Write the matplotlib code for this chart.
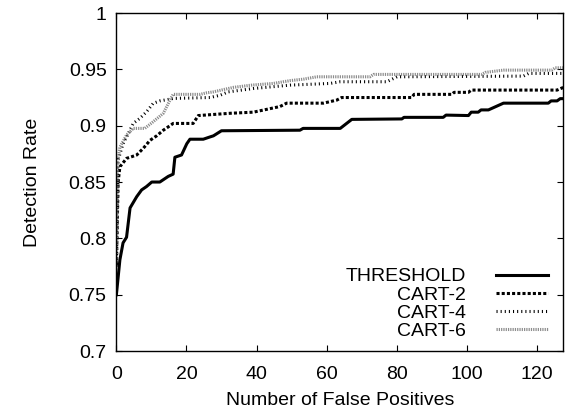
import matplotlib
matplotlib.use("Agg")
import matplotlib.pyplot as plt
from matplotlib.ticker import FormatStrFormatter

plt.rcParams['font.family'] = ['Liberation Sans', 'DejaVu Sans']

thr_x = [0, 1.0, 1.9, 2.9, 3.9, 5.8, 7.2, 8.6, 10.1, 12.4, 14.8, 16.2, 16.7, 18.6, 20.1, 21,
         24.8, 26.7, 27.7, 30, 52.4, 53.3, 63.9, 67.2, 81.5, 82.1, 93.3, 94.1, 100.5, 101.3,
         103.3, 104.1, 106.2, 110.5, 123.3, 124.1, 125.8, 126.7, 128]
thr_y = [0.75, 0.781, 0.796, 0.801, 0.827, 0.837, 0.843, 0.846, 0.850, 0.850, 0.855, 0.857,
         0.872, 0.874, 0.884, 0.888, 0.888, 0.890, 0.891, 0.8955, 0.896, 0.8976, 0.8976,
         0.9056, 0.906, 0.9074, 0.9074, 0.9094, 0.909, 0.912, 0.912, 0.914, 0.914, 0.920,
         0.920, 0.922, 0.922, 0.924, 0.924]

cart2_x = [0, 0.5, 1.0, 2.9, 4.3, 5.8, 7.7, 9.6, 11.5, 13.4, 15.3, 16.2, 21.9, 23.4, 32.4,
           39.1, 46.7, 48.6, 59.1, 62.9, 64.3, 84.3, 85, 95.8, 96.4, 100.5, 101.3, 125.8,
           127.3, 128]
cart2_y = [0.776, 0.85, 0.8635, 0.871, 0.8724, 0.874, 0.880, 0.887, 0.891, 0.896, 0.900,
           0.902, 0.902, 0.909, 0.911, 0.912, 0.917, 0.920, 0.920, 0.9227, 0.925, 0.925,
           0.9278, 0.9278, 0.9296, 0.9296, 0.9316, 0.9316, 0.9336, 0.9336]

cart4_x = [0, 0.5, 1.9, 3.4, 4.8, 6.7, 8.6, 10.5, 12.4, 14.8, 16.2, 26.7, 29.6, 31.9, 39.1,
           49.6, 61, 63.9, 77.2, 80.1, 116.2, 117.7, 128]
cart4_y = [0.775, 0.8695, 0.884, 0.893, 0.902, 0.9065, 0.9123, 0.9198, 0.922, 0.9233, 0.9242,
           0.925, 0.927, 0.930, 0.933, 0.936, 0.9375, 0.939, 0.939, 0.9434, 0.944, 0.9464,
           0.9464]

cart6_x = [0, 0.3, 1.0, 2.9, 4.8, 8.1, 10.5, 13.4, 15.3, 16.2, 23.9, 25.8, 27.7, 30.5, 33.4,
           38.6, 44.8, 49.6, 53.4, 57.2, 72.4, 73.4, 104.3, 105.3, 110.5, 124.3, 125.3, 128]
cart6_y = [0.78, 0.8665, 0.881, 0.8917, 0.8976, 0.8976, 0.9035, 0.911, 0.9227, 0.9278, 0.9278,
           0.9292, 0.930, 0.932, 0.934, 0.936, 0.9375, 0.940, 0.9413, 0.9434, 0.9434, 0.9455,
           0.9455, 0.9473, 0.9493, 0.9493, 0.9514, 0.9514]

fig = plt.figure(figsize=(5.65, 4.13), dpi=100)
ax = fig.add_axes([0.206, 0.150, 0.7905, 0.8185])

lw = 2.2
ax.plot(thr_x, thr_y, color='black', lw=lw, label='THRESHOLD')
ax.plot(cart2_x, cart2_y, color='black', lw=lw, dashes=(1.0, 0.7),
        dash_capstyle='butt', label='CART-2')
ax.plot(cart4_x, cart4_y, color='black', lw=lw, dashes=(0.35, 1.0),
        dash_capstyle='butt', label='CART-4')
ax.plot(cart6_x, cart6_y, color='#8c8c8c', lw=lw, dashes=(0.4, 0.35),
        dash_capstyle='butt', label='CART-6')

ax.set_xlim(0, 127.5)
ax.set_ylim(0.7, 1.0)
ax.set_xticks(range(0, 121, 20))
ax.set_yticks([0.7, 0.75, 0.8, 0.85, 0.9, 0.95, 1.0])
ax.yaxis.set_major_formatter(FormatStrFormatter('%g'))
ax.tick_params(direction='in', top=True, right=True, length=4, width=0.8,
               labelsize=14, pad=7)
ax.tick_params(axis='x', pad=10.5)
for s in ax.spines.values():
    s.set_linewidth(1.0)

ax.set_xlabel('Number of False Positives', fontsize=14, labelpad=7)
ax.set_ylabel('Detection Rate', fontsize=14, labelpad=20)

ax.legend(loc='lower right', bbox_to_anchor=(1 - 15 / 447, 11 / 338),
          frameon=False, markerfirst=False, fontsize=14,
          handlelength=2.7, labelspacing=0.03, handletextpad=1.5,
          borderaxespad=0, borderpad=0)

fig.savefig('out.png', dpi=100)
